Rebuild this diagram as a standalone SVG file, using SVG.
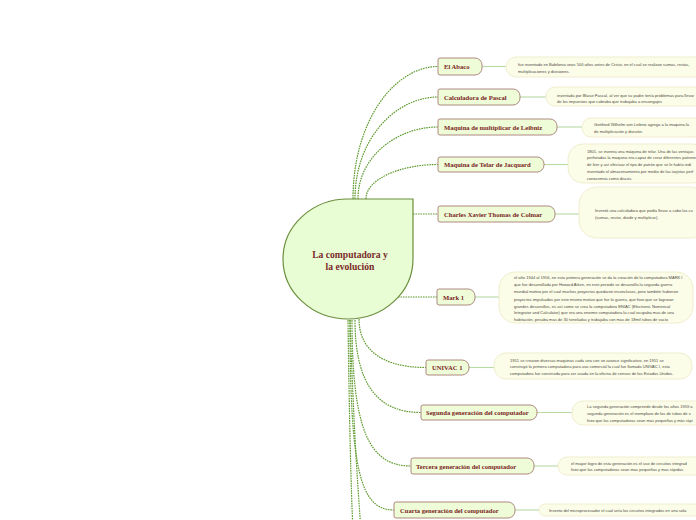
<svg xmlns="http://www.w3.org/2000/svg" width="696" height="520" viewBox="0 0 696 520">
<style>
.bg{fill:#ffffff}
.conn{fill:none;stroke:#5f9b2f;stroke-width:1.2;stroke-dasharray:1.6 0.9}
.link{fill:none;stroke:#b9d9a2;stroke-width:1.1}
.node{fill:#eefdd8;stroke:#a67d74;stroke-width:0.9}
.ntext{font-family:"Liberation Serif",serif;font-weight:bold;font-size:6.6px;fill:#7b2525}
.desc{fill:#fbfde9;stroke:#eeebca;stroke-width:0.9}
.dtext{font-family:"Liberation Sans",sans-serif;font-size:4.05px;fill:#4f4a44}
.center{fill:#e9fdd5;stroke:#6b8e3d;stroke-width:1.2}
.ctext{font-family:"Liberation Serif",serif;font-weight:bold;font-size:9.6px;fill:#7a2a2a;text-anchor:middle}
</style>
<rect class="bg" x="0" y="0" width="696" height="520"/>

<g id="connectors">
  <path class="conn" d="M353,199 C353,119.5 395.5,66.5 438,66.5"/>
  <path class="conn" d="M355,199 C355,137.8 396.5,97 438,97"/>
  <path class="conn" d="M358,199 C358,155.8 398,127 438,127"/>
  <path class="conn" d="M366,199 C366,178.3 402,164.5 438,164.5"/>
  <path class="conn" d="M413,214 L438,214"/>
  <path class="conn" d="M398,297 L437,297"/>
  <path class="conn" d="M359,319 C359,348 380,367.5 426,367.5"/>
  <path class="conn" d="M355,320 C355,382 376,412.5 421,412.5"/>
  <path class="conn" d="M352,320 C352,432 370,466 411,466"/>
  <path class="conn" d="M350,320 C350,470 360,510 394,510"/>
  <path class="conn" d="M348,320 Q350,470 353,530"/>
  <path class="conn" d="M350,320 Q354,440 361,530"/>
  <path class="link" d="M482,66.5 L506,66.5"/>
  <path class="link" d="M520,97 L546,97"/>
  <path class="link" d="M557,127 L582,127"/>
  <path class="link" d="M544,164.5 L568,164.5"/>
  <path class="link" d="M555,214 L579,214"/>
  <path class="link" d="M475,297 L499,297"/>
  <path class="link" d="M469,367.5 L494,367.5"/>
  <path class="link" d="M537,412.5 L572,412.5"/>
  <path class="link" d="M534,466 L558,466"/>
  <path class="link" d="M515,510 L539,510"/>
</g>

<g id="center">
  <path class="center" d="M413,199 L413,259 A65,60 0 0 1 348,319 A65,60 0 0 1 283,259 A65,60 0 0 1 348,199 Z"/>
  <text class="ctext" x="350" y="258">La computadora y</text>
  <text class="ctext" x="350" y="270">la evolución</text>
</g>

<g id="n-abaco">
  <path class="node" d="M440,58 H475 A7,7 0 0 1 482,65 V68 A7,7 0 0 1 475,75 H440 A2,2 0 0 1 438,73 V60 A2,2 0 0 1 440,58 Z"/>
  <text class="ntext" x="444" y="69">El Abaco</text>
</g>
<g id="d-abaco">
  <rect class="desc" x="506" y="57" width="200" height="20" rx="10"/>
  <text class="dtext" x="518" y="65.5">fue inventado en Babilonia unos 500 años antes de Cristo, en el cual se realizan sumas, restas,</text>
  <text class="dtext" x="518" y="72.5">multiplicaciones y divisiones.</text>
</g>

<g id="n-pascal">
  <path class="node" d="M440,89 H513 A7,7 0 0 1 520,96 V98 A7,7 0 0 1 513,105 H440 A2,2 0 0 1 438,103 V91 A2,2 0 0 1 440,89 Z"/>
  <text class="ntext" x="444" y="99.5">Calculadora de Pascal</text>
</g>
<g id="d-pascal">
  <rect class="desc" x="546" y="87" width="160" height="19" rx="9"/>
  <text class="dtext" x="557" y="96.5">inventada por Blaise Pascal, al ver que su padre tenía problemas para llevar</text>
  <text class="dtext" x="557" y="102.5">de los impuestos que cobraba que trabajaba a ensongajes</text>
</g>

<g id="n-leibniz">
  <path class="node" d="M440,119 H550 A7,7 0 0 1 557,126 V128 A7,7 0 0 1 550,135 H440 A2,2 0 0 1 438,133 V121 A2,2 0 0 1 440,119 Z"/>
  <text class="ntext" x="444" y="129.5">Maquina de multiplicar de Leibniz</text>
</g>
<g id="d-leibniz">
  <rect class="desc" x="582" y="118" width="124" height="19" rx="9"/>
  <text class="dtext" x="594" y="126">Gottfried Wilhelm von Leibniz agrega a la maquina la</text>
  <text class="dtext" x="594" y="132.5">de multiplicación y división.</text>
</g>

<g id="n-jacquard">
  <path class="node" d="M440,157 H537 A7,7 0 0 1 544,164 V165 A7,7 0 0 1 537,172 H440 A2,2 0 0 1 438,170 V159 A2,2 0 0 1 440,157 Z"/>
  <text class="ntext" x="444" y="167">Maquina de Telar de Jacquard</text>
</g>
<g id="d-jacquard">
  <rect class="desc" x="568" y="144" width="140" height="39" rx="15"/>
  <text class="dtext" x="587" y="152.5">1801, se inventa una máquina de telar. Una de las ventajas</text>
  <text class="dtext" x="587" y="159">perforadas la maquina era capaz de crear diferentes patrone</text>
  <text class="dtext" x="587" y="166">de leer y así efectuar el tipo de patrón que se le había indi</text>
  <text class="dtext" x="587" y="172.5">inventado el almacenamiento por medio de las tarjetas perf</text>
  <text class="dtext" x="587" y="179.5">conocemos como discos.</text>
</g>

<g id="n-colmar">
  <path class="node" d="M440,206 H548 A7,7 0 0 1 555,213 V215 A7,7 0 0 1 548,222 H440 A2,2 0 0 1 438,220 V208 A2,2 0 0 1 440,206 Z"/>
  <text class="ntext" x="444" y="216.5">Charles Xavier Thomas de Colmar</text>
</g>
<g id="d-colmar">
  <rect class="desc" x="579" y="187" width="130" height="51" rx="18"/>
  <text class="dtext" x="595" y="211.5">Inventó una calculadora que podía llevar a cabo las cu</text>
  <text class="dtext" x="595" y="218.5">(sumas, restar, dividir y multiplicar).</text>
</g>

<g id="n-mark1">
  <path class="node" d="M439,289 H468 A7,7 0 0 1 475,296 V298 A7,7 0 0 1 468,305 H439 A2,2 0 0 1 437,303 V291 A2,2 0 0 1 439,289 Z"/>
  <text class="ntext" x="443" y="299.5">Mark 1</text>
</g>
<g id="d-mark1">
  <rect class="desc" x="499" y="272" width="194" height="51" rx="16"/>
  <text class="dtext" x="514" y="279">el año 1944 al 1956, en esta primera generación se da la creación de la computadora MARK I</text>
  <text class="dtext" x="514" y="286">que fue desarrollada por Howard Aiken, en este periodo se desarrolla la segunda guerra</text>
  <text class="dtext" x="514" y="293">mundial motivo por el cual muchos proyectos quedaron inconclusos, pero también hubieron</text>
  <text class="dtext" x="514" y="300.5">proyectos impulsados por este mismo motivo que fue la guerra, que hizo que se lograran</text>
  <text class="dtext" x="514" y="307.5">grandes desarrollos, es así como se crea la computadora ENIAC (Electronic Numerical</text>
  <text class="dtext" x="514" y="314">Integrator and Calculator) que era una enorme computadora la cual ocupaba mas de una</text>
  <text class="dtext" x="514" y="321">habitación, pesaba mas de 30 toneladas y trabajaba con mas de 18mil tubos de vacío</text>
</g>

<g id="n-univac">
  <path class="node" d="M428,360 H462 A7,7 0 0 1 469,367 V368 A7,7 0 0 1 462,375 H428 A2,2 0 0 1 426,373 V362 A2,2 0 0 1 428,360 Z"/>
  <text class="ntext" x="432" y="370">UNIVAC 1</text>
</g>
<g id="d-univac">
  <rect class="desc" x="494" y="353" width="198" height="26" rx="12"/>
  <text class="dtext" x="510" y="361.5">1951 se crearon diversas maquinas cada una con un avance significativo, en 1951 se</text>
  <text class="dtext" x="510" y="368">construyó la primera computadora para uso comercial la cual fue llamada UNIVAC I, esta</text>
  <text class="dtext" x="510" y="374.5">computadora fue construida para ser usada en la oficina de censos de los Estados Unidos.</text>
</g>

<g id="n-segunda">
  <path class="node" d="M423,405 H530 A7,7 0 0 1 537,412 V413 A7,7 0 0 1 530,420 H423 A2,2 0 0 1 421,418 V407 A2,2 0 0 1 423,405 Z"/>
  <text class="ntext" x="426" y="415">Segunda generación del computador</text>
</g>
<g id="d-segunda">
  <rect class="desc" x="572" y="401" width="134" height="24" rx="11"/>
  <text class="dtext" x="587" y="407.5">La segunda generación comprende desde los años 1959 a</text>
  <text class="dtext" x="587" y="414.5">segunda generación es el reemplazo de los de tubos de v</text>
  <text class="dtext" x="587" y="421.5">hizo que las computadoras sean mas pequeñas y más rápi</text>
</g>

<g id="n-tercera">
  <path class="node" d="M413,458 H527 A7,7 0 0 1 534,465 V467 A7,7 0 0 1 527,474 H413 A2,2 0 0 1 411,472 V460 A2,2 0 0 1 413,458 Z"/>
  <text class="ntext" x="416" y="468.5">Tercera generación del computador</text>
</g>
<g id="d-tercera">
  <rect class="desc" x="558" y="457" width="148" height="18" rx="9"/>
  <text class="dtext" x="571" y="464.5">el mayor logro de esta generación es el uso de circuitos integrad</text>
  <text class="dtext" x="571" y="470.5">hizo que las computadoras sean mas pequeñas y mas rápidas</text>
</g>

<g id="n-cuarta">
  <path class="node" d="M396,502 H508 A7,7 0 0 1 515,509 V511 A7,7 0 0 1 508,518 H396 A2,2 0 0 1 394,516 V504 A2,2 0 0 1 396,502 Z"/>
  <text class="ntext" x="400" y="512.5">Cuarta generación del computador</text>
</g>
<g id="d-cuarta">
  <rect class="desc" x="539" y="504" width="167" height="12" rx="6"/>
  <text class="dtext" x="549" y="511.5">Invento del microprocesador el cual unía los circuitos integrados en una sola</text>
</g>
</svg>
